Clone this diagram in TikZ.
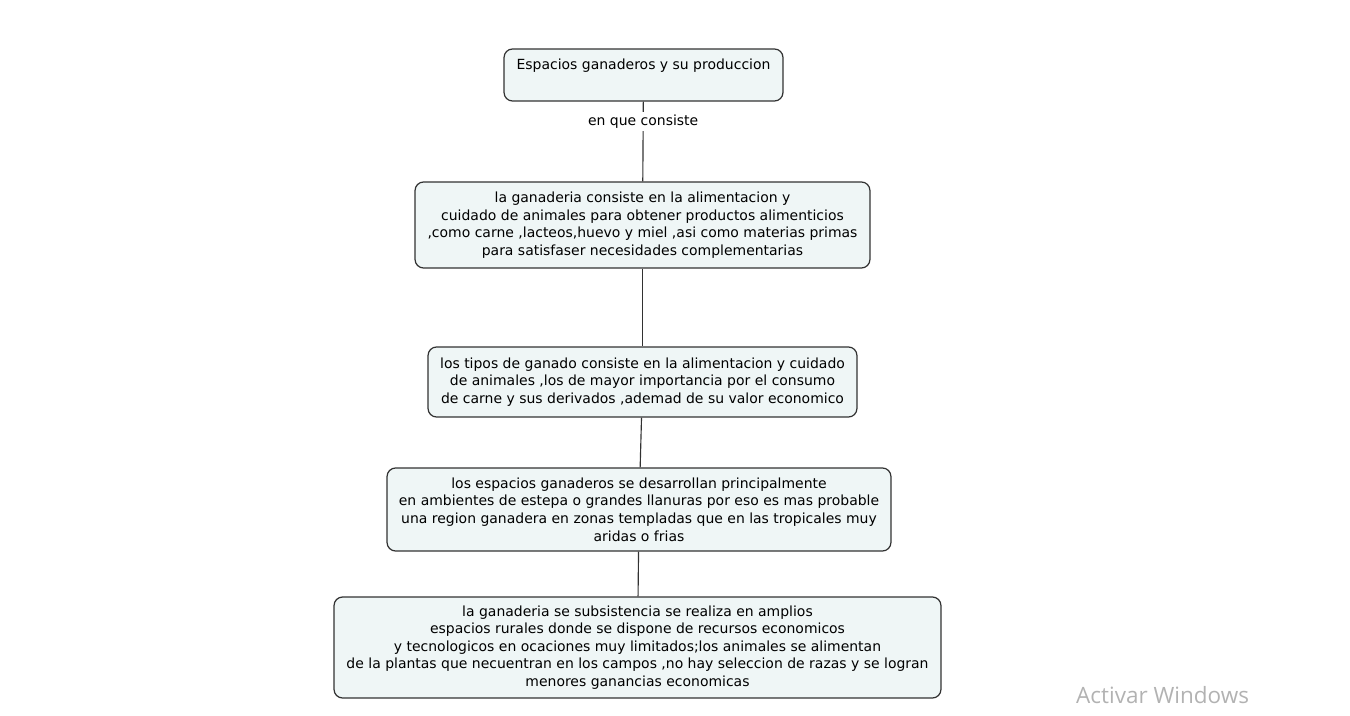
\documentclass[tikz,border=0pt]{standalone}
\usepackage{fontspec}
\setmainfont{DejaVu Sans}
\newfontfamily\wmfont{Open Sans}
\definecolor{boxfill}{RGB}{239,246,246}
\definecolor{boxline}{RGB}{50,50,50}
\tikzset{
  mapbox/.style={draw=boxline, fill=boxfill, line width=0.7pt, rounded corners=0.17cm, align=center, inner sep=0pt},
  mapline/.style={draw=boxline, line width=0.65pt}
}
\begin{document}
\begin{tikzpicture}[x=0.02cm, y=-0.02cm, font=\fontsize{7.95}{10}\selectfont]
  \useasboundingbox (0,0) rectangle (1350,716);
  \node[mapbox, minimum width=5.58cm, text height=0.42cm, text depth=0.62cm] (esp) at (643.5,75) {Espacios ganaderos y su produccion};
  \node[mapbox, minimum width=9.1cm, minimum height=1.72cm] (gan) at (642.5,225) {la ganaderia consiste en la alimentacion y\\cuidado de animales para obtener productos alimenticios\\,como carne ,lacteos,huevo y miel ,asi como materias primas\\para satisfaser necesidades complementarias};
  \node[mapbox, minimum width=8.58cm, minimum height=1.4cm] (tip) at (642.5,382) {los tipos de ganado consiste en la alimentacion y cuidado\\de animales ,los de mayor importancia por el consumo\\de carne y sus derivados ,ademad de su valor economico};
  \node[mapbox, minimum width=10.08cm, minimum height=1.66cm] (reg) at (639,509.5) {los espacios ganaderos se desarrollan principalmente\\en ambientes de estepa o grandes llanuras por eso es mas probable\\una region ganadera en zonas templadas que en las tropicales muy\\aridas o frias};
  \node[mapbox, minimum width=12.14cm, minimum height=2.02cm] (sub) at (637.5,647.5) {la ganaderia se subsistencia se realiza en amplios\\espacios rurales donde se dispone de recursos economicos\\y tecnologicos en ocaciones muy limitados;los animales se alimentan\\de la plantas que necuentran en los campos ,no hay seleccion de razas y se logran\\menores ganancias economicas};
  \draw[mapline] (esp) -- (gan) node[pos=0.25, fill=white, inner sep=1.5pt] {en que consiste};
  \draw[mapline] (gan) -- (tip);
  \draw[mapline] (tip) -- (reg);
  \draw[mapline] (reg) -- (sub);
  \node[font=\wmfont\fontsize{12.8}{13}\selectfont, text=black!30, anchor=west] (win) at (1070,695) {Activar Windows};
\end{tikzpicture}
\end{document}
